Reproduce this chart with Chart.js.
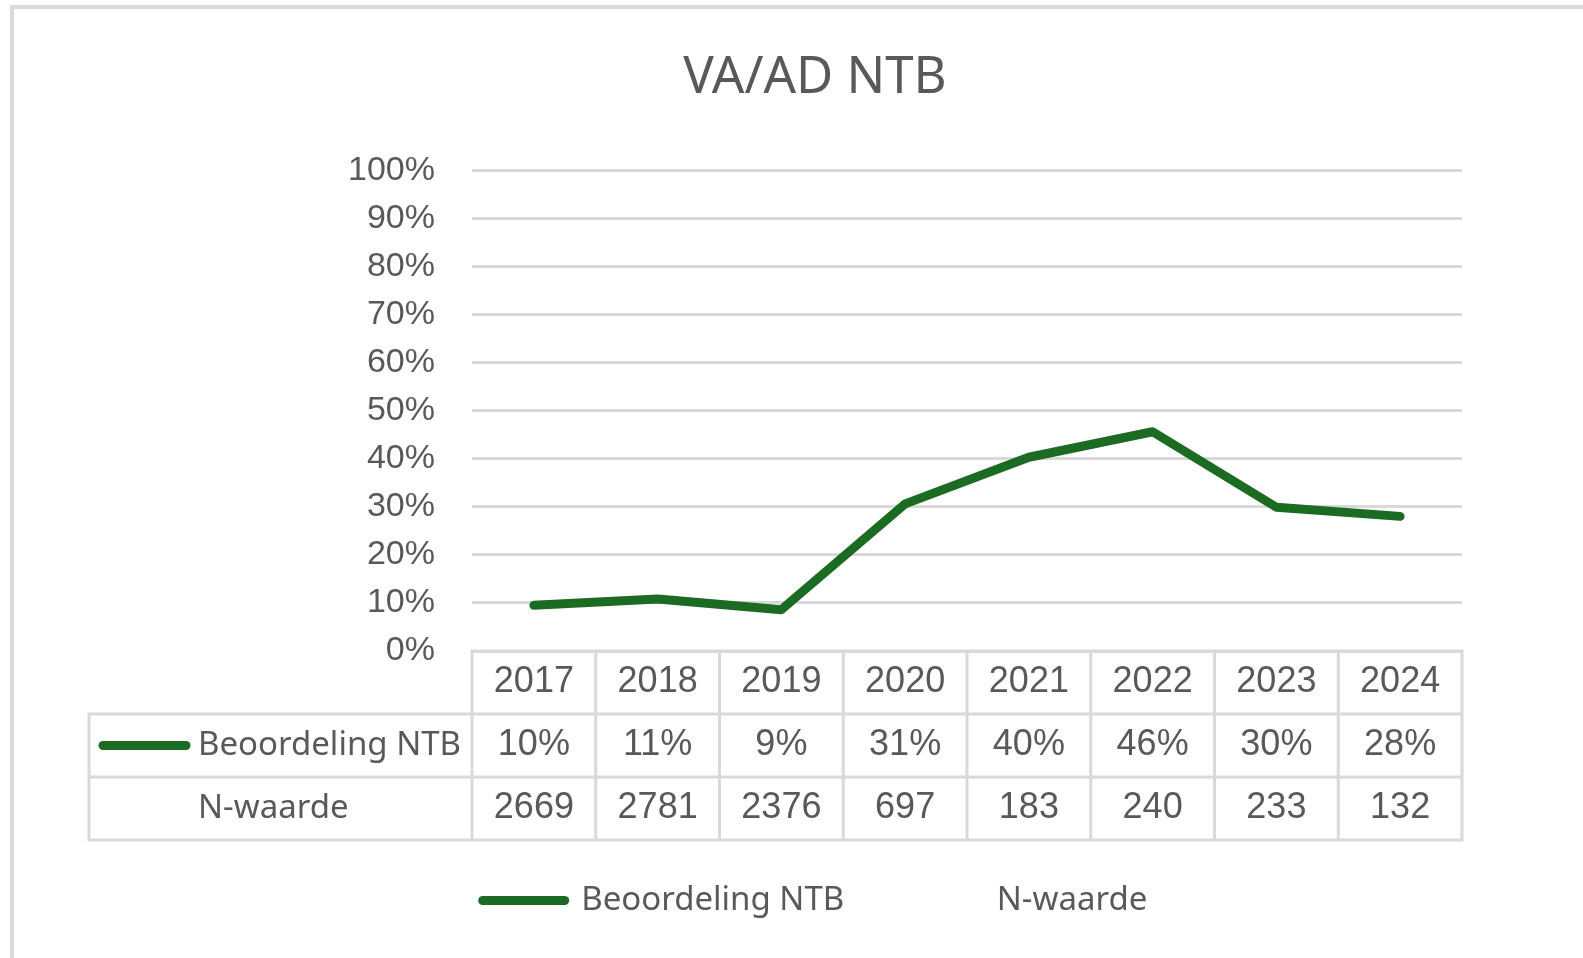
<!DOCTYPE html>
<html>
<head>
<meta charset="utf-8">
<script src="https://cdn.jsdelivr.net/npm/chart.js@4.4.1/dist/chart.umd.min.js"></script>
<style>
html, body { margin: 0; padding: 0; background: #fff; overflow: hidden; }
#wrap { position: relative; width: 1583px; height: 958px; }
#frame { position: absolute; left: 10px; top: 5px; width: 1600px; height: 1000px;
         border-left: 4px solid #dadada; border-top: 4px solid #dadada; }
#canvas1 { position: absolute; left: 0; top: 0; }
</style>
</head>
<body>
<div id="wrap">
  <div id="frame"></div>
  <canvas id="canvas1" width="1583" height="958"></canvas>
</div>
<script>
// data
var years = ['2017', '2018', '2019', '2020', '2021', '2022', '2023', '2024'];
var beoordeling = [9.5, 10.8, 8.6, 30.6, 40.3, 45.6, 29.9, 28.0];
var nWaarde = [2669, 2781, 2376, 697, 183, 240, 233, 132];
var yTicks = [0, 10, 20, 30, 40, 50, 60, 70, 80, 90, 100];

var green = '#1c6b23';
var grey = '#595959';
var lineGrey = '#d9d9d9';

// tabel onder de grafiek (Excel datatabel)
var tablePlugin = {
    id: 'dataTable',
    afterDraw: function (chart) {
        var ctx = chart.ctx;
        var x = chart.scales.x;
        var top = chart.chartArea.bottom;
        var n = years.length;
        var colW = x.width / n;
        var rowH = 63;
        var left = 89;

        ctx.save();
        ctx.strokeStyle = lineGrey;
        ctx.lineWidth = 3;
        ctx.lineCap = 'square';
        ctx.beginPath();
        ctx.moveTo(x.left, top);
        ctx.lineTo(x.right, top);
        for (var r = 1; r <= 3; r++) {
            ctx.moveTo(left, top + r * rowH);
            ctx.lineTo(x.right, top + r * rowH);
        }
        for (var i = 0; i <= n; i++) {
            var xx = x.left + i * colW;
            ctx.moveTo(xx, top);
            ctx.lineTo(xx, top + 3 * rowH);
        }
        ctx.moveTo(left, top + rowH);
        ctx.lineTo(left, top + 3 * rowH);
        ctx.stroke();

        ctx.fillStyle = grey;
        ctx.textAlign = 'center';
        ctx.textBaseline = 'middle';
        ctx.font = '36px "Liberation Sans"';
        for (var j = 0; j < n; j++) {
            var cx = x.getPixelForValue(j);
            ctx.fillText(years[j], cx, top + rowH * 0.5);
            ctx.fillText(Math.round(beoordeling[j]) + '%', cx, top + rowH * 1.5);
            ctx.fillText(String(nWaarde[j]), cx, top + rowH * 2.5);
        }

        // rij labels
        ctx.strokeStyle = green;
        ctx.lineWidth = 9;
        ctx.lineCap = 'round';
        ctx.beginPath();
        ctx.moveTo(left + 14, top + rowH * 1.5);
        ctx.lineTo(left + 97, top + rowH * 1.5);
        ctx.stroke();
        ctx.textAlign = 'left';
        ctx.font = '33px "Noto Sans"';
        ctx.fillText('Beoordeling NTB', left + 109, top + rowH * 1.5);
        ctx.fillText('N-waarde', left + 109, top + rowH * 2.5);
        ctx.restore();
    }
};

var ctx = document.getElementById('canvas1').getContext('2d');
var chart = new Chart(ctx, {
    type: 'line',
    data: {
        labels: years,
        datasets: [{
            label: 'Beoordeling NTB',
            data: beoordeling,
            borderColor: green,
            backgroundColor: green,
            borderWidth: 9,
            borderCapStyle: 'round',
            borderJoinStyle: 'round',
            pointRadius: 0,
            tension: 0
        }]
    },
    options: {
        responsive: false,
        animation: false,
        layout: {
            padding: { left: 168, right: 121, top: 0, bottom: 31 }
        },
        scales: {
            x: {
                offset: true,
                grid: { display: false },
                border: { display: false },
                ticks: { display: false },
                afterFit: function (scale) { scale.height = 179; }
            },
            y: {
                min: 0,
                max: 100,
                afterBuildTicks: function (scale) {
                    scale.ticks = yTicks.map(function (v) { return { value: v }; });
                },
                ticks: {
                    color: grey,
                    padding: 37,
                    font: { family: 'Liberation Sans', size: 34 },
                    callback: function (v) { return v + '%'; }
                },
                grid: { color: lineGrey, lineWidth: 3, drawTicks: false },
                border: { display: false },
                afterFit: function (scale) { scale.width = 304; }
            }
        },
        plugins: {
            title: {
                display: true,
                text: 'VA/AD NTB',
                color: grey,
                font: { family: 'Noto Sans', size: 51, weight: 'normal' },
                padding: { top: 48, bottom: 61 }
            },
            legend: {
                position: 'bottom',
                labels: {
                    usePointStyle: true,
                    pointStyleWidth: 82,
                    padding: 54,
                    color: grey,
                    font: { family: 'Noto Sans', size: 33 },
                    generateLabels: function () {
                        return [
                            { text: 'Beoordeling NTB', pointStyle: 'line', strokeStyle: green, fillStyle: green, lineWidth: 9, lineCap: 'round', fontColor: grey },
                            { text: 'N-waarde', pointStyle: 'line', strokeStyle: 'rgba(0,0,0,0)', fillStyle: 'rgba(0,0,0,0)', lineWidth: 0, fontColor: grey }
                        ];
                    }
                }
            },
            tooltip: { enabled: false }
        }
    },
    plugins: [tablePlugin]
});
</script>
</body>
</html>
